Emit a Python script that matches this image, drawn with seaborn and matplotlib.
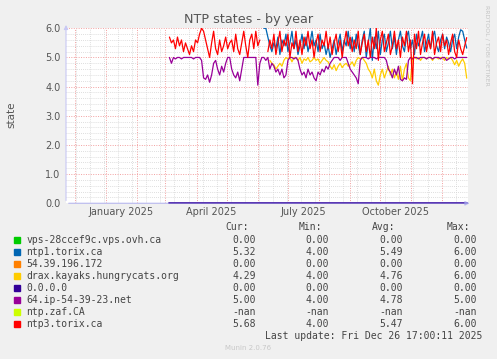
import numpy as np
import pandas as pd
import seaborn as sns
import matplotlib.pyplot as plt
import matplotlib.dates as mdates
from matplotlib.patches import Rectangle

nan = np.nan

# one sample every 2 days
dates = pd.date_range("2025-03-05", periods=149, freq="2D")

ntp3_vals = [5.7, 5.5, 5.6, 5.3, 5.7, 5.4, 5.6, 5.2, 5.5, 5.3,
             5.1, 5.4, 5.2, 5.6, 5.5, 5.8, 6.0, 5.9, 5.6, 5.3,
             5.0, 5.5, 5.9, 5.3, 5.1, 5.6, 5.2, 5.4, 5.7, 5.3,
             5.5, 5.6, 5.2, 5.8, 5.3, 5.1, 5.5, 5.9, 5.4, 5.0,
             5.6, 5.8, 5.3, 5.9, 5.4, 5.6, nan, nan, nan,
             5.2, 5.6, 5.3, 5.8, 5.1, 5.5, 5.9, 5.2, 5.6, 5.4,
             5.8, 5.0, 5.5, 5.3, 5.9, 5.2, 5.6, 5.1, 5.7, 5.4,
             5.9, 5.3, 5.6, 5.0, 5.5, 5.8, 5.2, 5.6, 5.4, 5.9,
             5.3, 5.7, 5.1, 5.5, 5.8, 5.2, 5.6, 5.0, 5.5, 5.9,
             5.4, 5.7, 5.2, 5.6, 5.3, 5.9, 5.1, 5.5, 5.8, 5.2,
             5.6, 5.0, 5.7, 5.3, 6.0, 4.9, 5.6, 5.9, 5.2, 5.5,
             5.8, 5.1, 5.4, 5.9, 5.3, 5.6, 5.0, 5.7, 5.4, 5.9,
             5.2, 5.6, 4.1, 5.8, 5.3, 5.9, 5.1, 5.5, 5.8, 5.2,
             5.6, 5.3, 5.9, 5.1, 5.5, 5.7, 5.2, 5.8, 5.4, 5.6,
             5.1, 5.5, 5.8, 5.2, 5.0, 5.6, 5.3, 5.1, 5.4, 5.68]

ntp1_vals = [nan] * 47 + [
             6.0, 6.0, 5.7, 5.4, 5.2, 5.5, 5.3, 5.7, 5.1, 5.6,
             5.4, 5.8, 5.2, 5.5, 5.9, 5.3, 5.6, 5.1, 5.4, 5.8,
             5.3, 5.7, 5.2, 5.5, 5.9, 5.4, 5.6, 5.2, 5.8, 5.3,
             5.5, 5.1, 5.4, 5.0, 5.3, 5.6, 5.1, 5.5, 5.8, 5.2,
             5.6, 5.4, 5.9, 5.3, 5.7, 5.2, 5.8, 5.4, 5.1, 5.6,
             5.9, 5.0, 5.5, 6.0, 4.9, 5.7, 5.3, 5.9, 5.1, 5.6,
             5.8, 5.2, 5.5, 5.9, 5.3, 5.7, 5.1, 5.6, 5.9, 5.4,
             5.2, 5.7, 5.9, 5.3, 5.6, 5.1, 5.8, 5.4, 5.6, 5.9,
             5.2, 5.5, 5.8, 5.3, 5.7, 5.9, 5.4, 5.2, 5.6, 5.8,
             5.3, 5.7, 5.5, 5.2, 5.6, 5.8, 5.3, 5.7, 5.95, 5.9,
             5.6, 5.32]

ip64_vals = [5.0, 4.8, 5.0, 4.95, 5.0, 5.0, 4.95, 5.0, 5.0, 5.0,
             5.0, 5.0, 4.95, 5.0, 5.0, 5.0, 4.9, 4.3, 4.25, 4.4,
             4.15, 4.4, 4.8, 4.9, 4.6, 4.4, 4.7, 4.5, 4.8, 5.0,
             5.0, 4.6, 4.4, 4.3, 4.5, 4.2, 4.6, 5.0, 5.0, 5.0,
             5.0, 5.0, 5.0, 5.0, 4.05, 4.8, 5.0, 5.0, 4.9, 5.0,
             4.6, 4.8, 4.7, 4.5, 4.6, 4.4, 4.6, 4.3, 4.4, 4.9,
             5.0, 5.0, 4.95, 5.0, 4.9, 4.6, 4.4, 4.5, 4.3, 4.6,
             4.4, 4.5, 4.3, 4.2, 4.5, 4.4, 4.6, 4.5, 4.7, 4.6,
             4.8, 4.9, 5.0, 5.0, 5.0, 4.9, 5.0, 5.0, 5.0, 4.8,
             4.6, 4.5, 4.4, 4.3, 4.1, 4.9, 5.0, 5.0, 5.0, 4.95,
             5.0, 5.0, 5.0, 4.95, 5.0, 5.0, 5.0, 5.0, 4.9, 4.6,
             4.5, 4.3, 4.6, 4.4, 4.7, 4.25, 4.2, 4.3, 4.25, 4.9,
             5.0, 4.95, 5.0, 5.0, 4.95, 5.0, 5.0, 5.0, 4.95, 5.0,
             5.0, 4.95, 5.0, 5.0, 5.0, 4.95, 5.0, 5.0, 4.9, 4.95,
             5.0, 5.0, 4.95, 5.0, 5.0, 5.0, 5.0, 5.0, 5.0]

drax_vals = [nan] * 50 + [
             4.9, 4.8, 4.75, 4.6, 4.7, 4.8, 4.7, 4.9, 5.0, 4.95,
             5.0, 4.85, 5.0, 5.0, 4.9, 5.0, 4.8, 4.95, 4.9, 5.0,
             4.85, 4.9, 5.0, 4.9, 4.95, 4.8, 4.9, 5.0, 4.9, 4.85,
             4.7, 4.6, 4.75, 4.55, 4.7, 4.8, 4.65, 4.75, 4.8, 4.7,
             4.75, 4.85, 4.7, 4.9, 5.0, 4.95, 5.0, 4.9, 4.8, 4.6,
             4.5, 4.3, 4.6, 4.2, 4.05, 4.4, 4.6, 4.3, 4.5, 4.7,
             4.4, 4.6, 4.3, 4.5, 4.25, 4.7, 4.2, 4.6, 4.8, 4.3,
             4.2, 5.0, 5.0, 4.95, 5.0, 4.9, 5.0, 5.0, 4.95, 5.0,
             5.0, 4.9, 5.0, 5.0, 4.95, 5.0, 5.0, 4.9, 5.0, 4.95,
             5.0, 4.9, 4.75, 4.9, 4.7, 4.85, 4.95, 4.8, 4.29]

zero_vals = [0.0] * 149
zaf_vals = [nan] * 149

hosts = ["vps-28ccef9c.vps.ovh.ca", "ntp1.torix.ca", "54.39.196.172",
         "drax.kayaks.hungrycats.org", "0.0.0.0", "64.ip-54-39-23.net",
         "ntp.zaf.CA", "ntp3.torix.ca"]
colors = ["#00CC00", "#0066B3", "#FF8000", "#FFCC00",
          "#330099", "#990099", "#CCFF00", "#FF0000"]
series = [zero_vals, ntp1_vals, zero_vals, drax_vals,
          zero_vals, ip64_vals, zaf_vals, ntp3_vals]

cur = ["0.00", "5.32", "0.00", "4.29", "0.00", "5.00", "-nan", "5.68"]
mins = ["0.00", "4.00", "0.00", "4.00", "0.00", "4.00", "-nan", "4.00"]
avgs = ["0.00", "5.49", "0.00", "4.76", "0.00", "4.78", "-nan", "5.47"]
maxs = ["0.00", "6.00", "0.00", "6.00", "0.00", "5.00", "-nan", "6.00"]

quarter_labels = ["January 2025", "April 2025", "July 2025", "October 2025"]

W, H = 497, 359
sns.set_theme(style="white")
plt.rcParams["font.family"] = ["DejaVu Sans"]

fig = plt.figure(figsize=(W / 100, H / 100), dpi=100, facecolor="#F0F0F0")
ax = fig.add_axes([66 / W, 1 - 203.3 / H, 401.7 / W, 175 / H])
ax.set_facecolor("white")

# series that sit on 0 overlap; the last one drawn hides the ones below it
flat_idx = [i for i, v in enumerate(series) if np.nanmax(np.r_[v, -1]) == 0]
for i, (name, color, vals) in enumerate(zip(hosts, colors, series)):
    df = pd.DataFrame({"date": dates, "value": vals})
    df["seg"] = df["value"].isna().cumsum()
    df = df.dropna()
    if df.empty:
        continue
    flat = i in flat_idx
    lw = (1.3 if i == flat_idx[-1] else 0.5) if flat else 0.9
    sns.lineplot(data=df, x="date", y="value", units="seg", estimator=None,
                 color=color, lw=lw, ax=ax, legend=False,
                 clip_on=not flat, zorder=3)

ax.set_xlim(pd.Timestamp("2024-11-22"), pd.Timestamp("2025-12-27"))
ax.set_ylim(0, 6)

ax.xaxis.set_major_locator(mdates.MonthLocator())
ax.xaxis.set_minor_locator(mdates.WeekdayLocator(byweekday=mdates.MO, interval=2))
ax.xaxis.set_major_formatter(plt.NullFormatter())
ax.yaxis.set_major_locator(plt.MultipleLocator(1.0))
ax.yaxis.set_minor_locator(plt.MultipleLocator(0.2))
ax.yaxis.set_major_formatter(plt.FormatStrFormatter("%.1f"))

ax.grid(which="minor", color="#d4d4d4", ls=(0, (1, 1.5)), lw=0.6)
ax.grid(which="major", color="#f2a0a0", ls=(0, (1, 1.5)), lw=0.7)
ax.set_axisbelow(True)

ax.tick_params(axis="y", which="both", length=0, pad=4, labelsize=7, labelcolor="#555555")
ax.tick_params(axis="x", which="major", length=3, color="#f2a0a0", width=0.7)
ax.tick_params(axis="x", which="minor", length=2, color="#d4d4d4", width=0.6)
ax.set_xlabel("")
ax.set_ylabel("")

for lab in quarter_labels:
    pos = pd.Timestamp(lab) + pd.Timedelta(days=15)
    ax.text(pos, -0.05, lab, transform=ax.get_xaxis_transform(),
            ha="center", va="center", fontsize=7, color="#555555")

# rrdtool style axes with arrow heads, drawn half transparent over the zero lines
for s in ax.spines.values():
    s.set_visible(False)
ax.annotate("", xy=(0, 1.035), xytext=(0, 0), xycoords="axes fraction",
            arrowprops=dict(arrowstyle="-|>", color="#c8c8f4", lw=0.8, mutation_scale=6))
ax.annotate("", xy=(1.012, 0), xytext=(0, 0), xycoords="axes fraction", zorder=5,
            arrowprops=dict(arrowstyle="-|>", color="#a3a3ed", alpha=0.6,
                            lw=1.0, mutation_scale=6))

fig.text(0.5, 1 - 19 / H, "NTP states - by year", ha="center", va="center",
         fontsize=9.2, color="#555555")
fig.text(11 / W, 1 - 115 / H, "state", rotation=90, ha="center", va="center",
         fontsize=7.5, color="#555555")
fig.text(487 / W, 1 - 5 / H, "RRDTOOL / TOBI OETIKER", rotation=270,
         ha="center", va="top", fontsize=4.5, color="#c4c4c4")

# legend block
mono = "DejaVu Sans Mono"
txt_col = "#444444"
col_right = [255.7, 329, 402.7, 476.7]
for x, head in zip(col_right, ["Cur:", "Min:", "Avg:", "Max:"]):
    fig.text((x - 7) / W, 1 - 227.5 / H, head, ha="right", va="center",
             family=mono, fontsize=7, color=txt_col)

for i, name in enumerate(hosts):
    y = 239.7 + i * 12.0
    fig.patches.append(Rectangle((14 / W, 1 - (y + 3) / H), 6 / W, 6 / H,
                                 transform=fig.transFigure, color=colors[i]))
    fig.text(26.5 / W, 1 - y / H, name, ha="left", va="center",
             family=mono, fontsize=7, color=txt_col)
    for x, vals in zip(col_right, [cur, mins, avgs, maxs]):
        fig.text(x / W, 1 - y / H, vals[i], ha="right", va="center",
                 family=mono, fontsize=7, color=txt_col)

fig.text(482.3 / W, 1 - 335.7 / H, "Last update: Fri Dec 26 17:00:11 2025",
         ha="right", va="center", family=mono, fontsize=7, color=txt_col)
fig.text(248 / W, 1 - 348.3 / H, "Munin 2.0.76", ha="center", va="center",
         fontsize=5, color="#c8c8c8")

fig.savefig("out.png", dpi=100, facecolor=fig.get_facecolor())
